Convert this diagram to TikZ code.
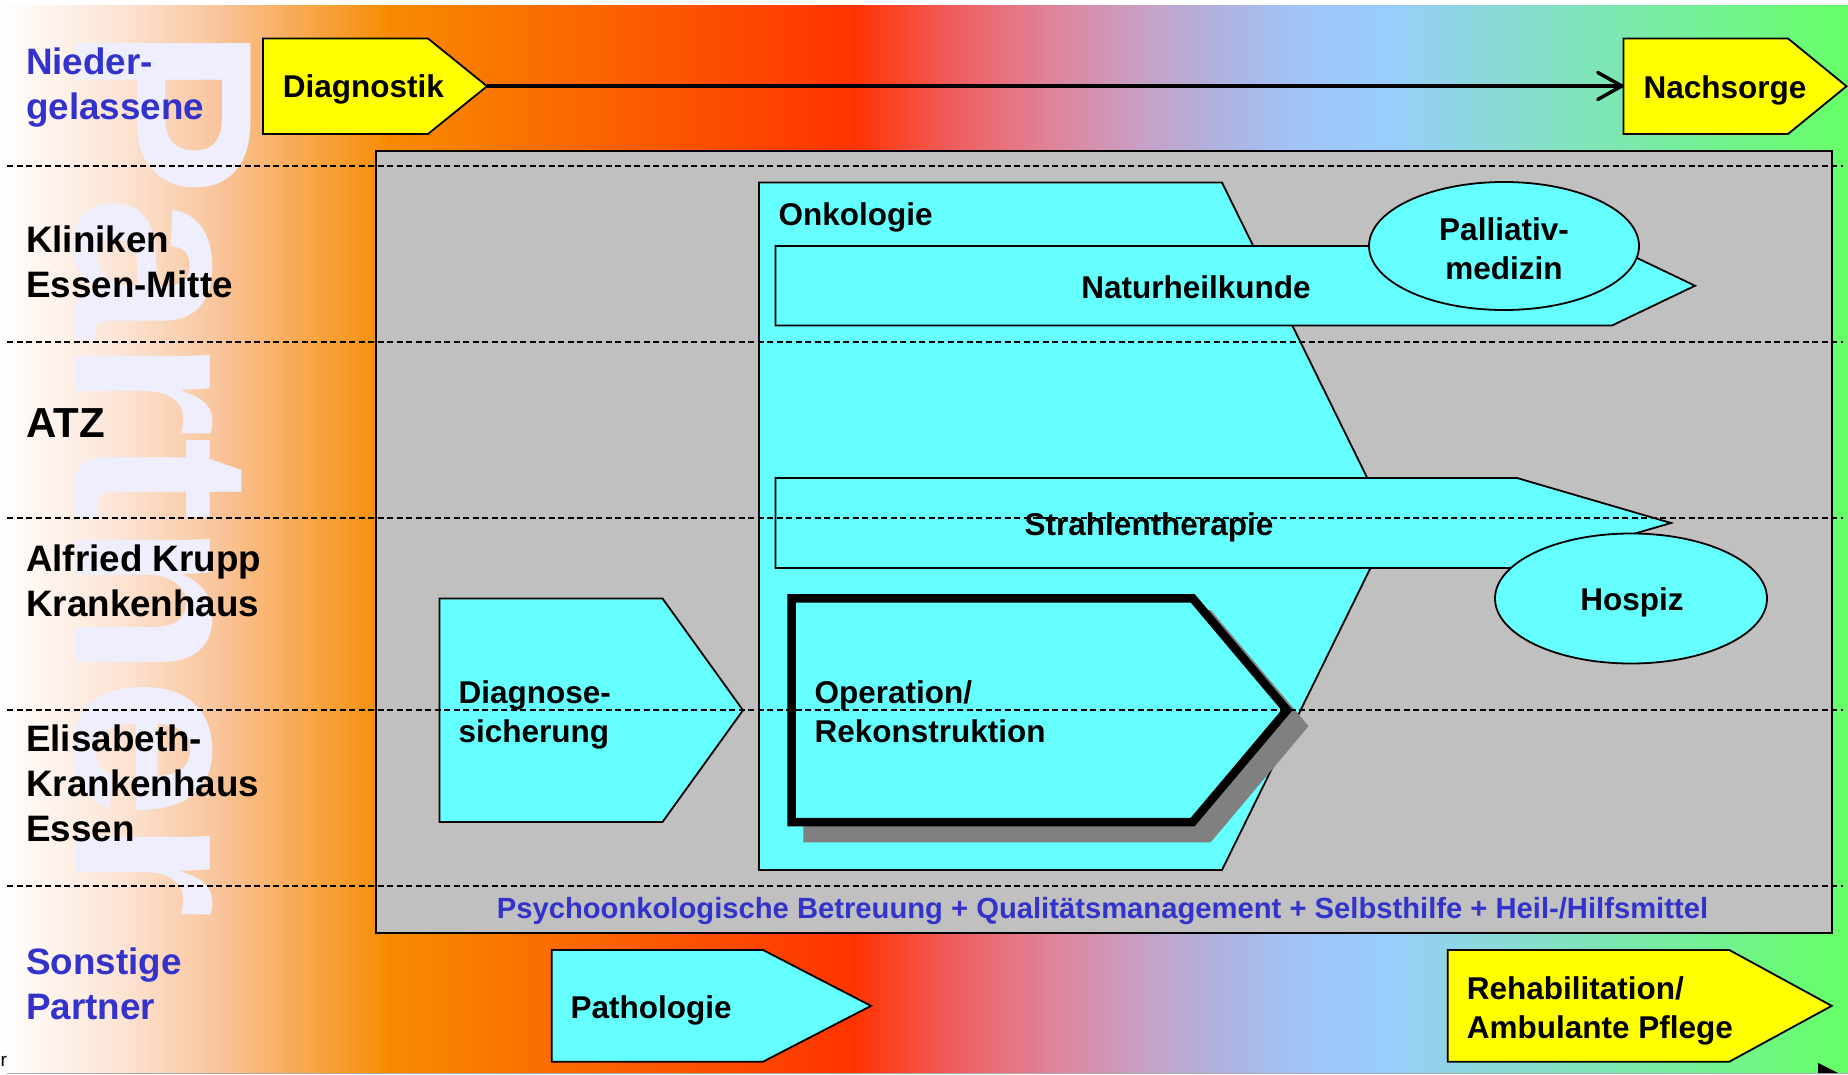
\documentclass[tikz,border=0pt]{standalone}
\usepackage{fontspec}
\setmainfont{Liberation Sans}
\usetikzlibrary{arrows.meta,shapes.geometric}
\definecolor{cyanfill}{RGB}{102,255,255}
\definecolor{yellowfill}{RGB}{255,255,0}
\definecolor{boxgray}{RGB}{192,192,192}
\definecolor{shadowgray}{RGB}{128,128,128}
\definecolor{labelblue}{RGB}{51,51,204}
\definecolor{wmark}{RGB}{238,238,252}
\definecolor{footgray}{RGB}{170,170,170}
\definecolor{ga}{RGB}{255,255,255}
\definecolor{gb}{RGB}{252,228,212}
\definecolor{gc}{RGB}{249,196,154}
\definecolor{gd}{RGB}{247,139,0}
\definecolor{ge}{RGB}{255,51,0}
\definecolor{gf}{RGB}{240,92,92}
\definecolor{gg}{RGB}{224,130,152}
\definecolor{gh}{RGB}{200,160,196}
\definecolor{gi}{RGB}{178,176,220}
\definecolor{gj}{RGB}{162,194,246}
\definecolor{gk}{RGB}{153,204,255}
\definecolor{gl}{RGB}{128,228,188}
\definecolor{gm}{RGB}{102,255,102}
\newcommand\mlines[1]{\begin{tabular}[t]{@{}l@{}}#1\end{tabular}}
\newcommand\clines[1]{\begin{tabular}[t]{@{}c@{}}#1\end{tabular}}
\newcommand\arrowbox[6][]{\draw[#1] (#2,#3) -- (#4,#3) -- (#5,{(#3+#6)/2}) -- (#4,#6) -- (#2,#6) -- cycle;}
\tikzset{
  shapebox/.style={draw=black, line width=1.8pt, fill=cyanfill},
  yellowbox/.style={shapebox, fill=yellowfill},
  dashline/.style={draw=black, line width=2.2pt, dash pattern=on 6pt off 3.5pt},
  lbl/.style={font=\bfseries\fontsize{36.8}{45}\selectfont, anchor=base west, inner sep=0pt},
  intext/.style={font=\bfseries\fontsize{31.5}{38.7}\selectfont, inner sep=0pt, anchor=base west},
  bubble/.style={ellipse, draw=black, line width=1.8pt, fill=cyanfill, minimum width=270pt, minimum height=128pt, inner sep=0pt}
}
\begin{document}
\begin{tikzpicture}[x=1pt,y=-1pt]
\useasboundingbox (0,0) rectangle (1848,1075);
\fill[white] (0,0) rectangle (1848,1075);
% background gradient
\foreach \xa/\xb/\ca/\cb in {0/120/ga/gb,120/220/gb/gc,220/390/gc/gd,390/852/gd/ge,852/950/ge/gf,950/1046/gf/gg,1046/1140/gg/gh,1140/1210/gh/gi,1210/1290/gi/gj,1290/1379/gj/gk,1379/1580/gk/gl,1580/1848/gl/gm}
  \shade[left color=\ca, right color=\cb] (\xa-0.6,6) rectangle (\xb+0.6,1073);
% watermark
\node[rotate=-90, anchor=base west, inner sep=0pt, text=wmark, font=\bfseries\fontsize{255}{255}\selectfont] (watermark) at (75,26) {Partner};
% main grey area
\draw[line width=2.5pt, fill=boxgray] (376,151) rectangle (1832,933);
% Onkologie
\arrowbox[shapebox]{759}{182.5}{1222}{1391}{870}
\arrowbox[shapebox]{775.5}{246}{1612}{1695}{325.5}
\node[bubble] (palliativbubble) at (1504,246) {};
\arrowbox[shapebox]{775.5}{478}{1517}{1671}{568}
\node[bubble, minimum width=272pt, minimum height=130pt] (hospizbubble) at (1631,598.5) {};
\arrowbox[shapebox]{439.5}{598.5}{662.5}{743}{822}
\begin{scope}[shift={(16,16)}]
\arrowbox[draw=shadowgray, fill=shadowgray, line width=8.5pt]{791.7}{598.3}{1192.7}{1287}{822}
\end{scope}
\arrowbox[shapebox, line width=8.5pt]{791.7}{598.3}{1192.7}{1287}{822}
% yellow boxes
\arrowbox[yellowbox]{263}{38.5}{428}{487}{134}
\arrowbox[yellowbox]{1623.5}{38.5}{1788}{1846.5}{134}
\arrowbox[shapebox]{551.7}{950}{763}{871}{1061.7}
\arrowbox[yellowbox]{1447.7}{950}{1729.3}{1831.7}{1061.7}
% arrow
\coordinate (diagtip) at (487,86);
\coordinate (nachwest) at (1623.5,86);
\draw[line width=3.5pt, -{Straight Barb[length=24pt, width=27pt, round]}] (diagtip) -- (nachwest);
% inner texts
\node[intext] (diagnostik) at (282.7,97.7) {Diagnostik};
\node[intext] (nachsorge) at (1643.4,98.3) {Nachsorge};
\node[intext] (onkologie) at (778.5,225.5) {Onkologie};
\node[intext, anchor=base] (naturheilkunde) at (1196,298.5) {Naturheilkunde};
\node[intext, anchor=base] (palliativ) at (1504,240.5) {\clines{Palliativ-\\medizin}};
\node[intext, anchor=base] (strahlen) at (1149,535) {Strahlentherapie};
\node[intext, anchor=base] (hospiz) at (1632,610) {Hospiz};
\node[intext] (diagnosesicherung) at (458.4,703.5) {\mlines{Diagnose-\\sicherung}};
\node[intext] (operation) at (814.5,703.5) {\mlines{Operation/\\Rekonstruktion}};
\node[intext] (pathologie) at (570.4,1018.3) {Pathologie};
\node[intext] (rehab) at (1466.7,999.5) {\mlines{Rehabilitation/\\Ambulante Pflege}};
\node[intext, anchor=base, text=labelblue, font=\bfseries\fontsize{29.2}{35}\selectfont] (psycho) at (1102.5,918.7) {Psychoonkologische Betreuung + Qualitätsmanagement + Selbsthilfe + Heil-/Hilfsmittel};
% row labels
\node[lbl, text=labelblue] (lnieder) at (26,74.2) {\mlines{Nieder-\\gelassene}};
\node[lbl] (lkliniken) at (26,252.5) {\mlines{Kliniken\\Essen-Mitte}};
\node[lbl, font=\bfseries\fontsize{42}{50}\selectfont] (latz) at (26,437) {ATZ};
\node[lbl] (lkrupp) at (26,571.5) {\mlines{Alfried Krupp\\Krankenhaus}};
\node[lbl] (lelisabeth) at (26,751) {\mlines{Elisabeth-\\Krankenhaus\\Essen}};
\node[lbl, text=labelblue] (lsonstige) at (26,974) {\mlines{Sonstige\\Partner}};
% dashed separators
\foreach \yy in {166,342,518,710,886}
  \draw[dashline] (7,\yy) -- (1843,\yy);
% footer remnants
\draw[footgray, line width=1pt] (7,1073.5) -- (1848,1073.5);
\fill[black] (1818,1063) -- (1838,1073) -- (1818,1073) -- cycle;
\node[anchor=base west, inner sep=0pt, font=\fontsize{19}{22}\selectfont] (footr) at (0.5,1066) {r};
\end{tikzpicture}
\end{document}
